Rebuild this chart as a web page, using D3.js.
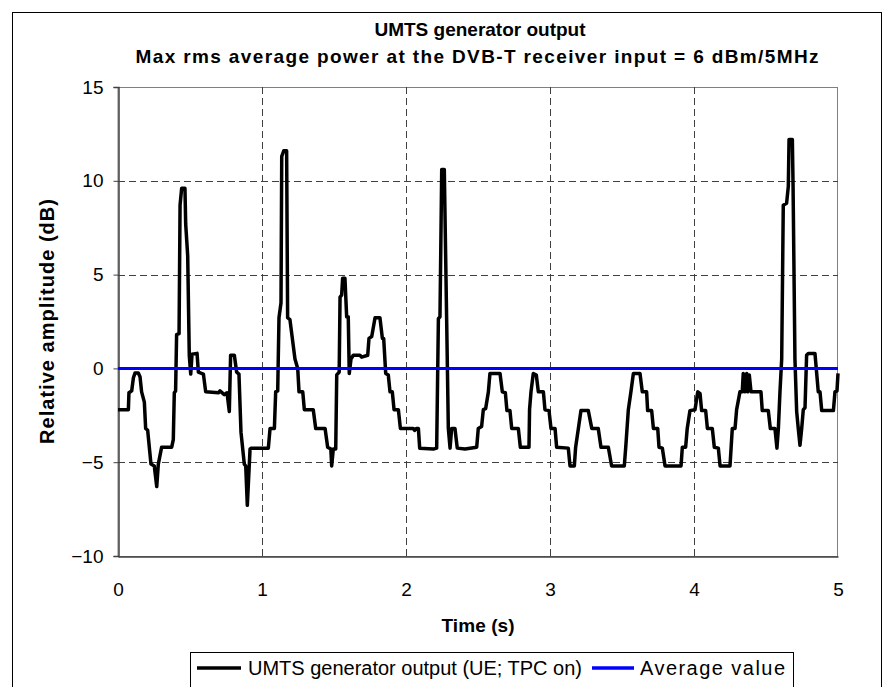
<!DOCTYPE html>
<html>
<head>
<meta charset="utf-8">
<script src="https://cdn.jsdelivr.net/npm/d3@7"></script>
<style>
	body { margin: 0; background: #fff; }
	text { font-family: Arial, "Liberation Sans", sans-serif; fill: #000; }
</style>
</head>
<body>
<svg width="885" height="687"></svg>
<script>
// time (s) and relative amplitude (dB)
var timeS = [0.000, 0.072, 0.076, 0.095, 0.107, 0.118, 0.141, 0.153, 0.164, 0.183, 0.192, 0.206, 0.229, 0.252, 0.269, 0.280, 0.303, 0.373, 0.384, 0.391,
	0.400, 0.407, 0.424, 0.431, 0.442, 0.465, 0.470, 0.484, 0.495, 0.505, 0.514, 0.549, 0.558, 0.593, 0.609, 0.697, 0.708, 0.738, 0.757, 0.773,
	0.782, 0.808, 0.824, 0.840, 0.854, 0.877, 0.887, 0.898, 0.917, 0.928, 1.044, 1.056, 1.086, 1.095, 1.109, 1.118, 1.132, 1.137, 1.151, 1.171,
	1.178, 1.194, 1.229, 1.248, 1.257, 1.283, 1.294, 1.356, 1.373, 1.438, 1.456, 1.478, 1.484, 1.495, 1.512, 1.519, 1.536, 1.542, 1.553, 1.560,
	1.576, 1.588, 1.599, 1.606, 1.618, 1.634, 1.680, 1.692, 1.734, 1.743, 1.762, 1.785, 1.819, 1.836, 1.845, 1.859, 1.877, 1.889, 1.905, 1.917,
	1.947, 1.961, 2.049, 2.060, 2.072, 2.086, 2.095, 2.190, 2.213, 2.225, 2.236, 2.248, 2.266, 2.282, 2.294, 2.306, 2.317, 2.340, 2.356, 2.410,
	2.491, 2.502, 2.525, 2.537, 2.553, 2.572, 2.583, 2.653, 2.669, 2.690, 2.701, 2.722, 2.734, 2.780, 2.794, 2.854, 2.858, 2.868, 2.884, 2.905,
	2.919, 2.954, 2.965, 2.993, 3.007, 3.035, 3.046, 3.127, 3.139, 3.169, 3.178, 3.197, 3.215, 3.266, 3.290, 3.335, 3.354, 3.405, 3.428, 3.516,
	3.526, 3.544, 3.562, 3.579, 3.625, 3.641, 3.671, 3.678, 3.706, 3.718, 3.748, 3.757, 3.780, 3.799, 3.910, 3.919, 3.942, 3.953, 3.972, 4.007,
	4.026, 4.042, 4.053, 4.081, 4.093, 4.127, 4.141, 4.169, 4.181, 4.250, 4.266, 4.285, 4.296, 4.319, 4.335, 4.342, 4.354, 4.366, 4.373, 4.384,
	4.396, 4.465, 4.474, 4.516, 4.530, 4.562, 4.576, 4.586, 4.597, 4.609, 4.620, 4.643, 4.655, 4.660, 4.683, 4.688, 4.701, 4.713, 4.724, 4.736,
	4.748, 4.759, 4.771, 4.782, 4.794, 4.840, 4.852, 4.863, 4.875, 4.887, 4.968, 4.979, 4.993, 5.000];
var amplitudeDb = [-2.2, -2.2, -1.3, -1.2, -0.5, -0.25, -0.25, -0.45, -1.25, -1.8, -3.2, -3.3, -5.1, -5.2, -6.3, -5.1, -4.2, -4.2, -3.8, -1.3,
	-1.2, 1.8, 1.85, 8.7, 9.6, 9.6, 7.7, 6.0, 0.7, -0.3, 0.75, 0.8, -0.2, -0.3, -1.25, -1.3, -1.2, -1.4, -1.3, -2.3,
	0.7, 0.7, -0.2, -0.3, -3.4, -5.1, -5.2, -7.3, -4.3, -4.25, -4.25, -3.2, -3.2, -1.25, -1.2, 2.7, 3.5, 11.3, 11.6, 11.6,
	2.7, 2.6, 0.5, 0.0, -1.25, -1.25, -2.2, -2.2, -3.2, -3.2, -4.2, -4.3, -5.2, -4.3, -4.3, -0.35, -0.2, 3.8, 3.9, 4.8,
	4.8, 2.75, 2.75, -0.27, 0.5, 0.7, 0.7, 0.6, 0.7, 1.6, 1.7, 2.7, 2.7, 1.6, 1.6, -0.27, -0.35, -1.25, -1.25, -2.2,
	-2.2, -3.2, -3.2, -3.3, -3.2, -3.2, -4.25, -4.3, -4.25, 2.65, 2.75, 10.6, 10.6, 2.75, -3.2, -4.25, -3.2, -3.2, -4.25, -4.3,
	-4.2, -3.2, -3.1, -2.2, -2.15, -1.25, -0.27, -0.27, -1.25, -1.3, -2.25, -2.25, -3.2, -3.2, -4.2, -4.2, -2.2, -1.25, -0.27, -0.35,
	-1.25, -1.25, -2.2, -2.25, -3.2, -3.2, -4.2, -4.25, -5.2, -5.2, -4.2, -3.2, -2.25, -2.25, -3.2, -3.2, -4.2, -4.2, -5.2, -5.2,
	-4.2, -2.2, -1.25, -0.27, -0.27, -1.25, -1.25, -2.25, -2.25, -3.2, -3.2, -4.2, -4.25, -5.2, -5.2, -4.2, -4.2, -3.2, -2.25, -2.2,
	-1.25, -1.35, -2.25, -2.25, -3.2, -3.2, -4.2, -4.25, -5.2, -5.2, -3.2, -3.2, -2.2, -1.25, -1.25, -0.27, -1.25, -0.27, -1.25, -0.35,
	-1.25, -1.25, -2.25, -2.25, -3.2, -3.2, -4.25, -3.2, -1.25, 0.5, 8.7, 8.8, 9.7, 12.2, 12.2, 9.7, 0.5, -2.3, -3.2, -4.1,
	-3.2, -2.2, -2.1, 0.7, 0.8, 0.8, -0.27, -1.25, -1.25, -2.25, -2.25, -1.25, -1.2, -0.27];
var averageDb = 0;

var xTicks = [0, 1, 2, 3, 4, 5];
var yTicks = [-10, -5, 0, 5, 10, 15];
var titleLines = ["UMTS generator output", "Max rms average power at the DVB-T receiver input = 6 dBm/5MHz"];
var seriesNames = ["UMTS generator output (UE; TPC on)", "Average value"];

var svg = d3.select("svg");
var plot = {l: 118, r: 838, t: 87, b: 556};

var x = d3.scaleLinear().domain([0, 5]).range([plot.l, plot.r]);
var y = d3.scaleLinear().domain([-10, 15]).range([plot.b, plot.t]);

// outer chart frame
svg.append("rect")
	.attr("x", 12.5).attr("y", 12.5)
	.attr("width", 869).attr("height", 690)
	.attr("fill", "none")
	.attr("stroke", "#000");

// plot area border
svg.append("rect")
	.attr("x", plot.l).attr("y", plot.t + 0.5)
	.attr("width", plot.r - plot.l - 0.5).attr("height", plot.b - plot.t)
	.attr("fill", "none")
	.attr("stroke", "#808080");

// gridlines
svg.append("g").selectAll("line")
	.data(yTicks.filter(function(d) { return d > -10 && d < 15; }))
	.enter().append("line")
	.attr("x1", plot.l).attr("x2", plot.r)
	.attr("y1", function(d) { return Math.round(y(d)) + 0.5; })
	.attr("y2", function(d) { return Math.round(y(d)) + 0.5; })
	.attr("stroke", "#404040")
	.attr("stroke-dasharray", "7,4");

svg.append("g").selectAll("line")
	.data(xTicks.filter(function(d) { return d > 0 && d < 5; }))
	.enter().append("line")
	.attr("x1", function(d) { return Math.round(x(d)) + 0.5; })
	.attr("x2", function(d) { return Math.round(x(d)) + 0.5; })
	.attr("y1", plot.t).attr("y2", plot.b)
	.attr("stroke", "#404040")
	.attr("stroke-dasharray", "7,4");

// axes
var yAxis = svg.append("g")
	.attr("transform", "translate(" + (plot.l + 0.5) + ",0)")
	.call(d3.axisLeft(y).tickValues(yTicks).tickSize(5).tickPadding(10));
var xAxis = svg.append("g")
	.attr("transform", "translate(0," + (plot.b + 0.5) + ")")
	.call(d3.axisBottom(x).tickValues(xTicks).tickFormat(d3.format("d")).tickSize(0).tickPadding(26));

[yAxis, xAxis].forEach(function(a) {
	a.select(".domain").attr("stroke", "#404040").attr("stroke-width", 1.5);
	a.selectAll(".tick line").attr("stroke", "#404040");
	a.selectAll(".tick text")
		.style("font-family", "Arial, 'Liberation Sans', sans-serif")
		.style("font-size", "19px")
		.attr("fill", "#000");
});

// series
var points = timeS.map(function(t, i) { return [t, amplitudeDb[i]]; });
var line = d3.line()
	.x(function(d) { return x(d[0]); })
	.y(function(d) { return y(d[1]); });

svg.append("path")
	.datum(points)
	.attr("d", line)
	.attr("fill", "none")
	.attr("stroke", "#000")
	.attr("stroke-width", 3.5)
	.attr("stroke-linejoin", "round");

svg.append("line")
	.attr("x1", x(0)).attr("x2", x(5))
	.attr("y1", y(averageDb)).attr("y2", y(averageDb))
	.attr("stroke", "#0000ff")
	.attr("stroke-width", 3);

// titles
svg.append("text")
	.attr("x", 480).attr("y", 36)
	.attr("text-anchor", "middle")
	.style("font-size", "19px")
	.style("font-weight", "bold")
	.text(titleLines[0]);

svg.append("text")
	.attr("x", 477).attr("y", 63)
	.attr("text-anchor", "middle")
	.attr("textLength", 683)
	.attr("lengthAdjust", "spacing")
	.style("font-size", "19px")
	.style("font-weight", "bold")
	.text(titleLines[1]);

svg.append("text")
	.attr("x", (plot.l + plot.r) / 2)
	.attr("y", 632)
	.attr("text-anchor", "middle")
	.attr("textLength", 73)
	.style("font-size", "19px")
	.style("font-weight", "bold")
	.text("Time (s)");

svg.append("text")
	.attr("text-anchor", "middle")
	.attr("transform", "translate(54," + (plot.t + plot.b) / 2 + ")rotate(-90)")
	.attr("textLength", 245)
	.attr("lengthAdjust", "spacing")
	.style("font-size", "20px")
	.style("font-weight", "bold")
	.text("Relative amplitude (dB)");

// legend
var legend = svg.append("g");
legend.append("rect")
	.attr("x", 190.5).attr("y", 652.5)
	.attr("width", 603).attr("height", 40)
	.attr("fill", "#fff")
	.attr("stroke", "#000");

var legendItems = [
	{name: seriesNames[0], color: "#000", x0: 197, x1: 241, tx: 248, len: 334},
	{name: seriesNames[1], color: "#0000ff", x0: 592, x1: 634, tx: 640, len: 145}
];
legendItems.forEach(function(d) {
	legend.append("line")
		.attr("x1", d.x0).attr("x2", d.x1)
		.attr("y1", 668).attr("y2", 668)
		.attr("stroke", d.color)
		.attr("stroke-width", 3.5);
	legend.append("text")
		.attr("x", d.tx).attr("y", 675)
		.attr("textLength", d.len)
		.attr("lengthAdjust", "spacing")
		.style("font-size", "20px")
		.text(d.name);
});
</script>
</body>
</html>
